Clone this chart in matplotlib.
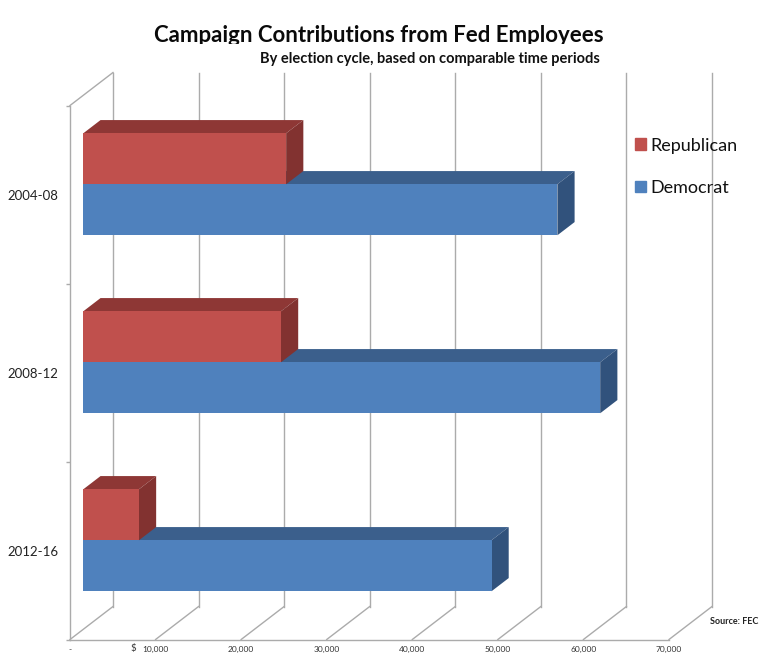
import matplotlib
matplotlib.use("Agg")
import matplotlib.pyplot as plt
from matplotlib.transforms import Bbox
from matplotlib.patches import Patch

plt.rcParams['font.family'] = ['Lato', 'DejaVu Sans']

# Data
cycles = ['2012-16', '2008-12', '2004-08']
republican = [6500, 23100, 23700]
democrat = [47700, 60400, 55400]
xticks = [0, 10000, 20000, 30000, 40000, 50000, 60000, 70000]
xlabels = ['-', '10,000', '20,000', '30,000', '40,000', '50,000', '60,000', '70,000']

RED, RED_TOP, RED_SIDE = '#C0504D', '#8E3735', '#823230'
BLUE, BLUE_TOP, BLUE_SIDE = '#4F81BD', '#3B5F8C', '#31527C'
GRID = '#ABABAB'

W, H = 768, 664
fig = plt.figure(figsize=(W / 100, H / 100), dpi=100, facecolor='white')
L, R, T, B = 70, 669, 105.5, 639.5
ax = fig.add_axes([L / W, 1 - B / H, (R - L) / W, (B - T) / H])
ax.set_xlim(0, 70000)
ax.set_ylim(0, 3)
ax.patch.set_alpha(0)

px_x = 70000 / (R - L)
px_y = 3 / (B - T)
DEPTH_X, DEPTH_Y = 43 * px_x, 33 * px_y   # full wall depth, in data units
F, K = 0.31, 0.71                         # bar front / back along the depth
BAR_H = 51 * px_y
centres = [i + 0.5 for i in range(len(cycles))]

# back wall + floor lines
for v in xticks:
    ax.plot([v + DEPTH_X] * 2, [DEPTH_Y, 3 + DEPTH_Y], color=GRID, lw=1, clip_on=False, zorder=1)
    ax.plot([v, v + DEPTH_X], [0, DEPTH_Y], color=GRID, lw=1, clip_on=False, zorder=1)
ax.plot([0, DEPTH_X], [3, 3 + DEPTH_Y], color=GRID, lw=1, clip_on=False, zorder=1)


def bar3d(value, y0, y1, front, top, side, z):
    fx, fy = F * DEPTH_X, F * DEPTH_Y
    kx, ky = K * DEPTH_X, K * DEPTH_Y
    ax.fill([fx, value + fx, value + kx, kx],
            [y1 + fy, y1 + fy, y1 + ky, y1 + ky], color=top, lw=0, clip_on=False, zorder=z)
    ax.fill([value + fx, value + kx, value + kx, value + fx],
            [y0 + fy, y0 + ky, y1 + ky, y1 + fy], color=side, lw=0, clip_on=False, zorder=z)
    ax.barh(y0 + fy, value, height=y1 - y0, left=fx, align='edge', color=front,
            clip_on=False, zorder=z + 0.1)


for c, r, d in zip(centres, republican, democrat):
    bar3d(d, c - BAR_H, c, BLUE, BLUE_TOP, BLUE_SIDE, 3)
    bar3d(r, c, c + BAR_H, RED, RED_TOP, RED_SIDE, 4)

ax.set_xlim(0, 70000)
ax.set_ylim(0, 3)

for s in ('top', 'right'):
    ax.spines[s].set_visible(False)
for s in ('left', 'bottom'):
    ax.spines[s].set_color(GRID)
    ax.spines[s].set_linewidth(1)

ax.set_yticks(centres)
ax.set_yticklabels(cycles, fontsize=9.5, color='#222222', va='center_baseline')
ax.tick_params(axis='y', which='major', length=0, pad=8.5)
ax.set_yticks([0, 1, 2, 3], minor=True)
ax.tick_params(axis='y', which='minor', length=3, color=GRID, width=1)
ax.set_xticks(xticks)
ax.set_xticklabels(xlabels, fontsize=6.0, color='#333333')
ax.tick_params(axis='x', length=0, pad=4.5)
ax.text(133 / W, 1 - 649 / H, '$', transform=fig.transFigure, ha='center', va='center',
        fontsize=7, color='#333333')

# Titles
t = fig.text(379 / W, 1 - 42 / H, 'Campaign Contributions from Fed Employees', ha='center',
             va='baseline', fontsize=16, fontweight='bold', color='#0A0A0A')
t.set_clip_box(Bbox([[0, H - 43.5], [W, H]]))
t.set_clip_on(True)
fig.text(430 / W, 1 - 59 / H, 'By election cycle, based on comparable time periods', ha='center',
         va='center', fontsize=10.55, fontweight='bold', color='#111111')
fig.text(734.5 / W, 1 - 622 / H, 'Source: FEC', ha='center', va='center', fontsize=6.5,
         fontweight='bold', color='#222222')

handles = [Patch(color=RED, label='Republican'), Patch(color=BLUE, label='Democrat')]
fig.legend(handles=handles, loc='upper left', bbox_to_anchor=(631 / W, 1 - 134 / H), frameon=False,
           fontsize=13, handlelength=0.62, handleheight=0.62, handletextpad=0.23,
           labelspacing=1.45, borderpad=0.2, borderaxespad=0, labelcolor='#111111')

fig.savefig('out.png', dpi=100)
